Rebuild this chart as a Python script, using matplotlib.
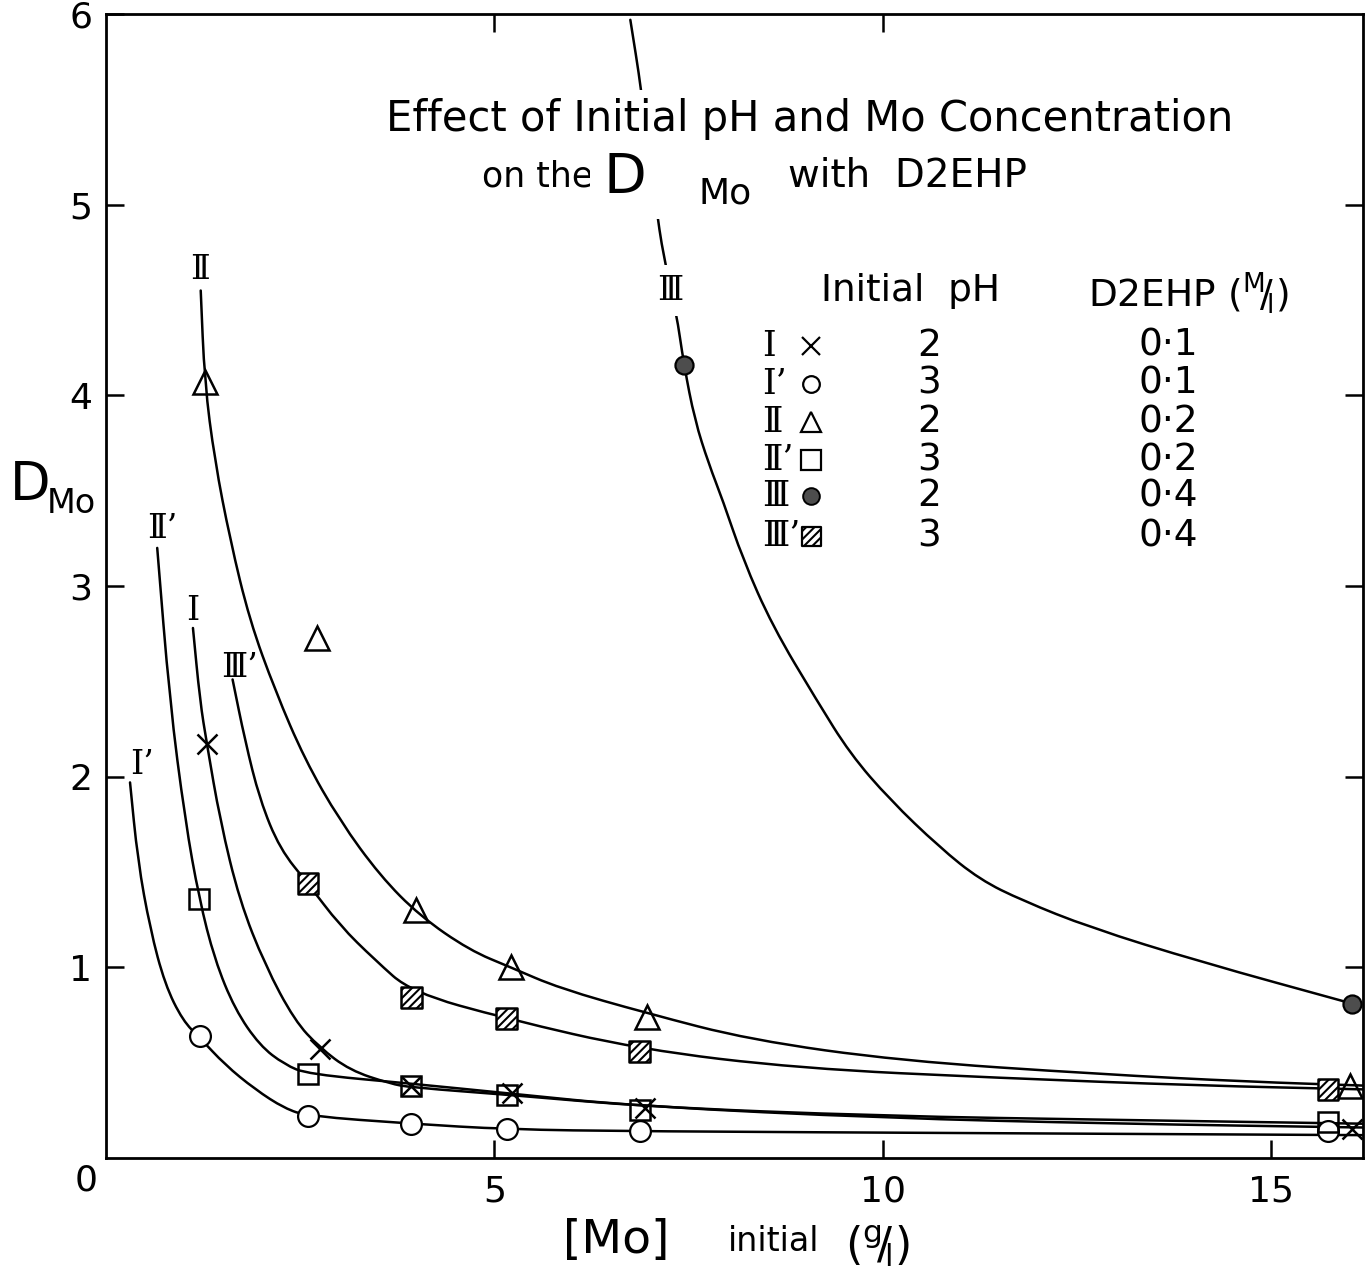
import numpy as np
import matplotlib.pyplot as plt
from matplotlib.path import Path
from matplotlib.patches import PathPatch

# --- DATA ---
# measured points, [Mo] initial (g/l) vs D_Mo
I_x = [1.30, 2.75, 3.93, 5.23, 6.94, 16.04]          # x  pH2, 0.1 M
I_y = [2.17, 0.57, 0.38, 0.34, 0.26, 0.15]
Ip_x = [1.21, 2.60, 3.93, 5.16, 6.87, 15.73]         # o  pH3, 0.1 M
Ip_y = [0.64, 0.22, 0.18, 0.15, 0.14, 0.14]
II_x = [1.27, 2.72, 3.99, 5.21, 6.96, 16.01]         # triangle pH2, 0.2 M
II_y = [4.07, 2.73, 1.30, 1.00, 0.74, 0.38]
IIp_x = [1.20, 2.60, 3.93, 5.16, 6.87, 15.73]        # square pH3, 0.2 M
IIp_y = [1.36, 0.44, 0.38, 0.33, 0.25, 0.19]
III_x = [7.44, 16.04]                                # dark circle pH2, 0.4 M
III_y = [4.16, 0.81]
IIIp_x = [2.60, 3.93, 5.16, 6.87, 15.73]             # hatched square pH3, 0.4 M
IIIp_y = [1.44, 0.84, 0.73, 0.56, 0.36]

# hand drawn curves
cI_x = [1.12, 1.21, 1.30, 1.47, 1.72, 2.05, 2.43, 2.75, 3.14, 3.66, 3.93, 5.23, 6.94, 10.0, 13.0, 16.18]
cI_y = [2.78, 2.40, 2.17, 1.77, 1.35, 1.01, 0.72, 0.58, 0.46, 0.39, 0.37, 0.33, 0.27, 0.21, 0.18, 0.16]
cIp_x = [0.31, 0.41, 0.57, 0.76, 0.99, 1.21, 1.53, 1.92, 2.30, 2.60, 3.93, 5.16, 6.87, 11.5, 16.18]
cIp_y = [1.97, 1.56, 1.20, 0.91, 0.72, 0.63, 0.49, 0.36, 0.26, 0.22, 0.18, 0.15, 0.14, 0.13, 0.12]
cII_x = [1.22, 1.27, 1.40, 1.60, 1.85, 2.18, 2.56, 3.01, 3.53, 4.04, 4.68, 5.21, 5.84, 6.96, 8.29, 10.22, 12.79, 14.72, 16.18]
cII_y = [4.55, 4.07, 3.66, 3.24, 2.82, 2.45, 2.09, 1.77, 1.48, 1.27, 1.09, 1.00, 0.89, 0.76, 0.62, 0.51, 0.44, 0.40, 0.38]
cIIp_x = [0.66, 0.82, 1.02, 1.20, 1.40, 1.66, 1.98, 2.30, 2.60, 3.93, 5.16, 6.87, 10.0, 13.0, 16.18]
cIIp_y = [3.20, 2.40, 1.77, 1.36, 1.04, 0.78, 0.59, 0.49, 0.44, 0.39, 0.34, 0.27, 0.22, 0.20, 0.18]
cIII_x = [6.75, 6.89, 7.07, 7.18, 7.34, 7.44, 7.58, 7.76, 7.94, 8.20, 8.58, 9.15, 9.58, 10.09, 10.73, 11.25, 11.80, 12.66, 14.08, 16.04]
cIII_y = [5.97, 5.61, 5.02, 4.72, 4.44, 4.16, 3.87, 3.64, 3.45, 3.14, 2.79, 2.40, 2.12, 1.88, 1.63, 1.46, 1.35, 1.21, 1.03, 0.81]
cIIIp_x = [1.63, 1.79, 1.98, 2.24, 2.60, 3.01, 3.46, 3.93, 5.16, 6.87, 8.93, 11.5, 14.08, 16.18]
cIIIp_y = [2.51, 2.19, 1.88, 1.62, 1.44, 1.22, 1.04, 0.87, 0.73, 0.57, 0.47, 0.42, 0.38, 0.36]

# legend table
leg_names = ['Ⅰ', 'Ⅰ\u2019', 'Ⅱ', 'Ⅱ\u2019', 'Ⅲ', 'Ⅲ\u2019']
leg_ph = ['2', '3', '2', '3', '2', '3']
leg_d2ehp = ['0·1', '0·1', '0·2', '0·2', '0·4', '0·4']

SANS = ['DejaVu Sans']
ROMAN = ['DejaVu Serif', 'DejaVu Sans']


def draw_curve(ax, xs, ys, lw=1.8):
    # traced points used as control points of quadratic beziers (french-curve look)
    pts = list(zip(xs, ys))
    verts = [pts[0], ((pts[0][0] + pts[1][0]) / 2, (pts[0][1] + pts[1][1]) / 2)]
    codes = [Path.MOVETO, Path.LINETO]
    for i in range(1, len(pts) - 1):
        mid = ((pts[i][0] + pts[i + 1][0]) / 2, (pts[i][1] + pts[i + 1][1]) / 2)
        verts += [pts[i], mid]
        codes += [Path.CURVE3, Path.CURVE3]
    verts.append(pts[-1])
    codes.append(Path.LINETO)
    ax.add_patch(PathPatch(Path(verts, codes), facecolor='none', edgecolor='black',
                           lw=lw, zorder=2, capstyle='round'))


fig = plt.figure(figsize=(13.67, 12.8), dpi=100)
ax = fig.add_axes([0.0775, 0.0953, 0.9195, 0.8937])
ax.set_xlim(0, 16.18)
ax.set_ylim(0, 6)

for cx, cy in [(cI_x, cI_y), (cIp_x, cIp_y), (cII_x, cII_y), (cIIp_x, cIIp_y),
               (cIII_x, cIII_y), (cIIIp_x, cIIIp_y)]:
    draw_curve(ax, cx, cy)

# markers
mk = dict(color='black', linestyle='none', zorder=4)
ax.plot(Ip_x, Ip_y, marker='o', ms=15, mfc='white', mec='black', mew=1.6, **mk)
ax.plot(II_x, II_y, marker='^', ms=17, mfc='none', mec='black', mew=1.8, **mk)
ax.plot(IIp_x, IIp_y, marker='s', ms=15, mfc='none', mec='black', mew=1.8, **mk)
ax.plot(I_x, I_y, marker='x', ms=14, mec='black', mew=1.8, **mk)
plt.rcParams['hatch.linewidth'] = 1.5
ax.scatter(IIIp_x, IIIp_y, marker='s', s=15**2, facecolor='white', edgecolor='black',
           hatch='////', linewidths=1.8, zorder=5)
ax.scatter(III_x, III_y, marker='o', s=13**2, facecolor='0.3', edgecolor='black',
           linewidths=1.6, zorder=5)

# axes styling
for sp in ax.spines.values():
    sp.set_linewidth(2.0)
ax.set_xticks([5, 10, 15])
ax.set_xticklabels(['5', '10', '15'])
ax.set_yticks([1, 2, 3, 4, 5, 6])
ax.set_yticklabels(['1', '2', '3', '4', '5', '6'])
ax.tick_params(direction='in', length=13, width=1.8, labelsize=26, pad=12)
ax.tick_params(axis='y', pad=10)
for t in ax.get_xticklabels() + ax.get_yticklabels():
    t.set_family(SANS)
ax.text(-0.25, -0.12, '0', ha='center', va='center', fontsize=26, family=SANS,
        transform=ax.transData, clip_on=False)

top = ax.secondary_xaxis('top')
top.set_xticks([5, 10], labels=['', ''])
top.tick_params(direction='in', length=13, width=1.8)
right = ax.secondary_yaxis('right')
right.set_yticks([1, 2, 3, 4, 5], labels=['', '', '', '', ''])
right.tick_params(direction='in', length=13, width=1.8)

# axis labels
fig.text(0.022, 0.621, 'D', fontsize=38, ha='center', va='center', family=SANS)
fig.text(0.052, 0.607, 'Mo', fontsize=24, ha='center', va='center', family=SANS)
fig.text(0.451, 0.031, '[Mo]', fontsize=34, ha='center', va='center', family=SANS)
fig.text(0.566, 0.030, 'initial', fontsize=24, ha='center', va='center', family=SANS)
fig.text(0.642, 0.026, r'($^{\mathrm{g}}\!/\!_{\mathrm{l}}$)', fontsize=32, ha='center',
         va='center', family=SANS)

# title block (white box hides curve III as in the drawing)
ax.text(9.06, 5.45, 'Effect of Initial pH and Mo Concentration', fontsize=30,
        ha='center', va='center', family=SANS,
        bbox=dict(facecolor='white', edgecolor='none', pad=6), zorder=6)
ax.text(5.56, 5.15, 'on the', fontsize=25, ha='center', va='center', family=SANS, zorder=6)
ax.text(6.68, 5.14, 'D', fontsize=40, ha='center', va='center', family=SANS,
        bbox=dict(facecolor='white', edgecolor='none', pad=10), zorder=6)
ax.text(7.97, 5.06, 'Mo', fontsize=26, ha='center', va='center', family=SANS, zorder=6)
ax.text(10.32, 5.15, 'with  D2EHP', fontsize=28, ha='center', va='center', family=SANS, zorder=6)

# curve labels
ax.text(1.21, 4.66, 'Ⅱ', fontsize=24, ha='center', va='center', family=ROMAN)
ax.text(0.72, 3.30, 'Ⅱ\u2019', fontsize=24, ha='center', va='center', family=ROMAN)
ax.text(1.12, 2.87, 'Ⅰ', fontsize=24, ha='center', va='center', family=ROMAN)
ax.text(1.72, 2.57, 'Ⅲ\u2019', fontsize=24, ha='center', va='center', family=ROMAN)
ax.text(0.46, 2.06, 'Ⅰ\u2019', fontsize=24, ha='center', va='center', family=ROMAN)
ax.text(7.26, 4.55, 'Ⅲ', fontsize=24, ha='center', va='center', family=ROMAN,
        bbox=dict(facecolor='white', edgecolor='none', pad=7), zorder=6)

# legend table
ax.text(10.36, 4.55, 'Initial  pH', fontsize=27, ha='center', va='center', family=SANS)
ax.text(13.93, 4.53, r'D2EHP ($^{\mathrm{M}}\!/\!_{\mathrm{l}}$)', fontsize=27,
        ha='center', va='center', family=SANS)
row_y = [4.26, 4.06, 3.86, 3.66, 3.47, 3.26]
for i in range(6):
    ax.text(8.45, row_y[i], leg_names[i], fontsize=25, ha='left', va='center', family=ROMAN)
    ax.text(10.6, row_y[i], leg_ph[i], fontsize=27, ha='center', va='center', family=SANS)
    ax.text(13.67, row_y[i], leg_d2ehp[i], fontsize=27, ha='center', va='center', family=SANS)
lx = 9.08
ax.plot([lx], [row_y[0]], marker='x', ms=13, mec='black', mew=1.6, ls='none')
ax.plot([lx], [row_y[1]], marker='o', ms=12, mfc='none', mec='black', mew=1.6, ls='none')
ax.plot([lx], [row_y[2]], marker='^', ms=15, mfc='none', mec='black', mew=1.6, ls='none')
ax.plot([lx], [row_y[3]], marker='s', ms=15, mfc='none', mec='black', mew=1.6, ls='none')
ax.scatter([lx], [row_y[4]], marker='o', s=12**2, facecolor='0.3', edgecolor='black', linewidths=1.4)
ax.scatter([lx], [row_y[5]], marker='s', s=14**2, facecolor='white', edgecolor='black',
           hatch='////', linewidths=1.6)

fig.savefig('out.png', dpi=100)
